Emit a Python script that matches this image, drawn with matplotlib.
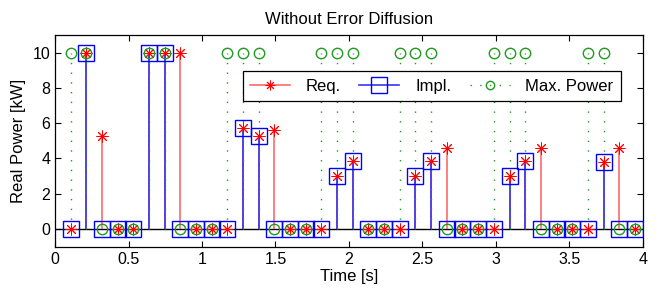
import matplotlib
matplotlib.use('Agg')
import matplotlib.pyplot as plt
from matplotlib.lines import Line2D

# Arial-like font (MATLAB look)
plt.rcParams['font.family'] = ['Liberation Sans', 'DejaVu Sans']

# sample times [s]
t = [0.107, 0.213, 0.320, 0.427, 0.533, 0.640, 0.747, 0.853, 0.960, 1.067,
     1.173, 1.280, 1.387, 1.493, 1.600, 1.707, 1.813, 1.920, 2.027, 2.133,
     2.240, 2.347, 2.453, 2.560, 2.667, 2.773, 2.880, 2.987, 3.093, 3.200,
     3.307, 3.413, 3.520, 3.627, 3.733, 3.840, 3.947]

# requested power [kW]
req = [0, 10, 5.25, 0, 0, 10, 10, 10, 0, 0,
       0, 5.75, 5.25, 5.6, 0, 0, 0, 3.0, 3.85, 0,
       0, 0, 3.0, 3.85, 4.6, 0, 0, 0, 3.0, 3.85,
       4.6, 0, 0, 0, 3.8, 4.6, 0]

# implemented power [kW]
impl = [0, 10, 0, 0, 0, 10, 10, 0, 0, 0,
        0, 5.75, 5.25, 0, 0, 0, 0, 3.0, 3.85, 0,
        0, 0, 3.0, 3.85, 0, 0, 0, 0, 3.0, 3.85,
        0, 0, 0, 0, 3.8, 0, 0]

# max. available power [kW]
max_power = [10, 10, 0, 0, 0, 10, 10, 0, 0, 0,
             10, 10, 10, 0, 0, 0, 10, 10, 10, 0,
             0, 10, 10, 10, 0, 0, 0, 10, 10, 10,
             0, 0, 0, 10, 10, 0, 0]

red_line = '#ff6a6a'
blue_line = '#3535ff'
green = '#1f9a1f'

fig = plt.figure(figsize=(6.64, 2.91), dpi=100)
ax = fig.add_axes([0.083, 0.152, 0.885, 0.728])

# baseline over the full width
ax.axhline(0, color='k', lw=1.0, zorder=1)

# Req.
ml, sl, bl = ax.stem(t, req, linefmt='-', markerfmt='o', basefmt=' ')
sl.set_color(red_line)
sl.set_linewidth(1.2)
ml.set_marker((8, 2, 0))
ml.set_markersize(8.5)
ml.set_markeredgecolor('red')
ml.set_markerfacecolor('red')
ml.set_markeredgewidth(0.7)
ml.set_zorder(4)

# Impl.
ml, sl, bl = ax.stem(t, impl, linefmt='-', markerfmt='s', basefmt=' ')
sl.set_color(blue_line)
sl.set_linewidth(1.2)
ml.set_markersize(11.5)
ml.set_markerfacecolor('none')
ml.set_markeredgecolor('blue')
ml.set_markeredgewidth(1.0)
ml.set_zorder(4)

# Max. Power
ml, sl, bl = ax.stem(t, max_power, linefmt=':', markerfmt='o', basefmt=' ')
sl.set_color(green)
sl.set_linewidth(1.0)
sl.set_linestyle((0, (1, 6)))
ml.set_markersize(7.5)
ml.set_markerfacecolor('none')
ml.set_markeredgecolor(green)
ml.set_markeredgewidth(1.0)
ml.set_zorder(4)

ax.set_xlim(0, 4)
ax.set_ylim(-1, 11)
ax.set_xticks([0, 0.5, 1, 1.5, 2, 2.5, 3, 3.5, 4])
ax.set_xticklabels(['0', '0.5', '1', '1.5', '2', '2.5', '3', '3.5', '4'])
ax.set_yticks([0, 2, 4, 6, 8, 10])
ax.tick_params(direction='in', top=True, right=True, length=4, labelsize=11.5, width=0.8)
for s in ax.spines.values():
    s.set_linewidth(0.9)

ax.set_title('Without Error Diffusion', fontsize=12, pad=8)
ax.set_xlabel('Time [s]', fontsize=12, labelpad=2)
ax.set_ylabel('Real Power [kW]', fontsize=12, labelpad=5)

# legend proxies
handles = [
    Line2D([], [], color=red_line, lw=1.2, marker=(8, 2, 0), markersize=7,
           markeredgecolor='red', markeredgewidth=0.7),
    Line2D([], [], color=blue_line, lw=1.2, marker='s', markersize=11.5,
           markerfacecolor='none', markeredgecolor='blue', markeredgewidth=1.0),
    Line2D([], [], color=green, lw=1.0, linestyle=(0, (1, 6)), marker='o', markersize=6,
           markerfacecolor='none', markeredgecolor=green, markeredgewidth=1.0),
]
leg = ax.legend(handles, ['Req.', 'Impl.', 'Max. Power'], ncol=3,
                loc='upper right', bbox_to_anchor=(0.963, 0.829), borderaxespad=0,
                fancybox=False, framealpha=1, edgecolor='k', fontsize=12,
                handlelength=2.4, columnspacing=1.1, handletextpad=0.95,
                borderpad=0.45, markerfirst=True)
leg.get_frame().set_linewidth(0.9)
for h in leg.legend_handles:
    h.set_markevery([1])

fig.savefig('out.png', dpi=100)
